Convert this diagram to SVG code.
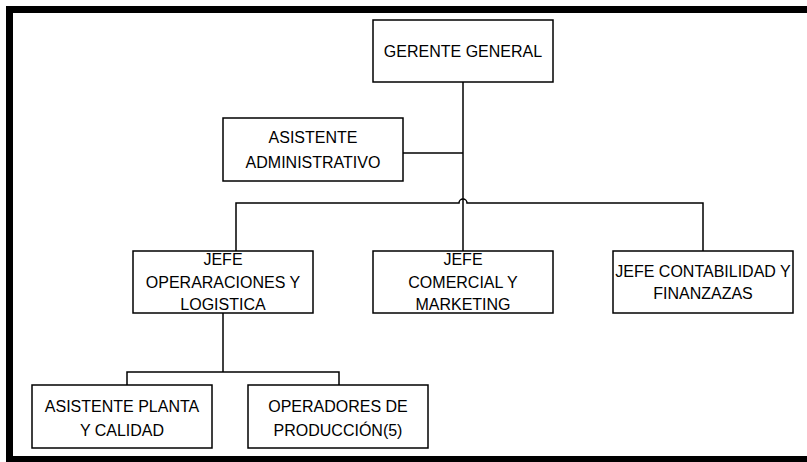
<svg xmlns="http://www.w3.org/2000/svg" width="807" height="462" viewBox="0 0 807 462">
<style>
.box{fill:#fff;stroke:#000;stroke-width:1.5}
.t{font-family:"Liberation Sans",Arial,sans-serif;font-size:16px;fill:#000;text-anchor:middle}
.c{fill:none;stroke:#000;stroke-width:1.5}
</style>
<rect x="0" y="0" width="807" height="462" fill="#fff"/>
<rect x="9.5" y="9.5" width="900" height="450" fill="none" stroke="#000" stroke-width="7"/>
<g id="connectors">
<path class="c" d="M463,82 V251"/>
<path class="c" d="M403,153 H463"/>
<path class="c" d="M236,251 V203 H459 A4,4 0 0 1 467,203 H703 V251"/>
<path class="c" d="M223,313 V372"/>
<path class="c" d="M127,385 V372 H339 V385"/>
</g>
<g id="gerente">
<rect class="box" x="373" y="20" width="180" height="62"/>
<text class="t" x="463" y="57">GERENTE GENERAL</text>
</g>
<g id="asistente-admin">
<rect class="box" x="223" y="118" width="180" height="63"/>
<text class="t" x="313" y="143">ASISTENTE</text>
<text class="t" x="313" y="168">ADMINISTRATIVO</text>
</g>
<g id="jefe-operaciones">
<rect class="box" x="133" y="251" width="180" height="62"/>
<text class="t" x="223" y="265">JEFE</text>
<text class="t" x="223" y="288">OPERARACIONES Y</text>
<text class="t" x="223" y="310">LOGISTICA</text>
</g>
<g id="jefe-comercial">
<rect class="box" x="373" y="251" width="180" height="62"/>
<text class="t" x="463" y="265">JEFE</text>
<text class="t" x="463" y="288">COMERCIAL Y</text>
<text class="t" x="463" y="310">MARKETING</text>
</g>
<g id="jefe-contabilidad">
<rect class="box" x="613" y="251" width="180" height="62"/>
<text class="t" x="703" y="277">JEFE CONTABILIDAD Y</text>
<text class="t" x="703" y="299">FINANZAZAS</text>
</g>
<g id="asistente-planta">
<rect class="box" x="32" y="385" width="180" height="63"/>
<text class="t" x="122" y="412">ASISTENTE PLANTA</text>
<text class="t" x="122" y="436">Y CALIDAD</text>
</g>
<g id="operadores">
<rect class="box" x="248" y="385" width="180" height="63"/>
<text class="t" x="338" y="412">OPERADORES DE</text>
<text class="t" x="338" y="436">PRODUCCIÓN(5)</text>
</g>
</svg>
